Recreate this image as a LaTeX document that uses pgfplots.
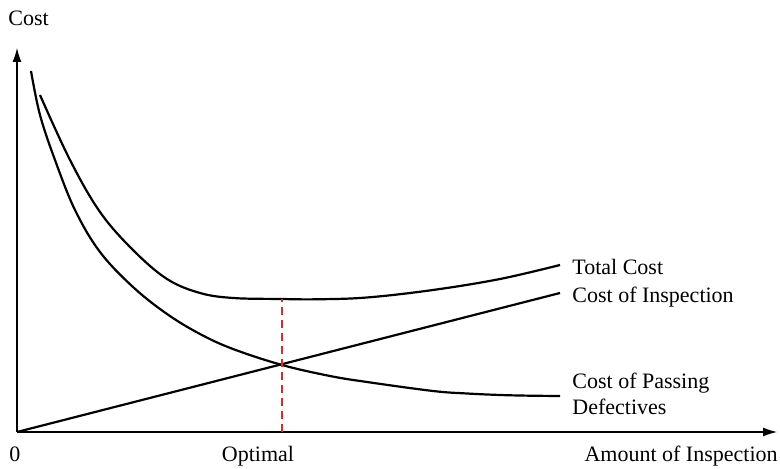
\documentclass[border=0pt]{standalone}
\usepackage{pgfplots}
\pgfplotsset{compat=1.18}
\usetikzlibrary{arrows.meta}
\usepackage{fontspec}
\setmainfont{Liberation Serif}

\definecolor{optred}{RGB}{220,40,45}

\begin{document}
\begin{tikzpicture}
\useasboundingbox (-8.5pt,-18.5pt) rectangle (381.5pt,216pt);
\begin{axis}[
  at={(0,0)}, anchor=south west,
  scale only axis,
  width=380pt, height=192pt,
  xmin=0, xmax=760, ymin=0, ymax=384,
  axis lines=left,
  axis line style={line width=0.6pt, -{Latex[length=7pt,width=4.5pt]}},
  xtick=\empty, ytick=\empty,
  clip=false,
  font=\fontsize{11}{13}\selectfont,
]
  % cost of passing defectives
  \addplot[black, line width=1.1pt, smooth, tension=0.6] coordinates {
    (14,361) (23,317) (38,272) (58,222) (83,180) (116,145) (150,118)
    (183,98) (216,83) (265,67) (313,56) (350,50) (416,41) (450,38.5)
    (483,37) (513,36.3) (543,36)
  };
  % total cost
  \addplot[black, line width=1.1pt, smooth, tension=0.6] coordinates {
    (23,337) (53,272) (83,220) (116,182) (150,153) (183,139) (216,134)
    (263,133) (300,132.7) (350,134.5) (416,142) (483,153) (543,167)
  };
  % cost of inspection
  \addplot[black, line width=1.1pt] coordinates {(0,0) (543,139)};
  % optimal
  \addplot[optred, line width=0.8pt, dash pattern=on 4pt off 2.5pt] coordinates {(265,0) (265,133)};

  \node[anchor=base west, inner sep=0pt] at (axis cs:555,157) {Total Cost};
  \node[anchor=base west, inner sep=0pt] at (axis cs:555,129) {Cost of Inspection};
  \node[anchor=base west, inner sep=0pt] at (axis cs:555,43) {Cost of Passing};
  \node[anchor=base west, inner sep=0pt] at (axis cs:555,17) {Defectives};
  \node[anchor=base east, inner sep=0pt] at (axis cs:761,-30) {Amount of Inspection};
  \node[anchor=base, inner sep=0pt] at (axis cs:241,-30) {Optimal};
  \node[anchor=base, inner sep=0pt] at (axis cs:-2,-30) {0};
  \node[anchor=base west, inner sep=0pt] at (axis cs:-9,406) {Cost};
\end{axis}
\end{tikzpicture}
\end{document}
